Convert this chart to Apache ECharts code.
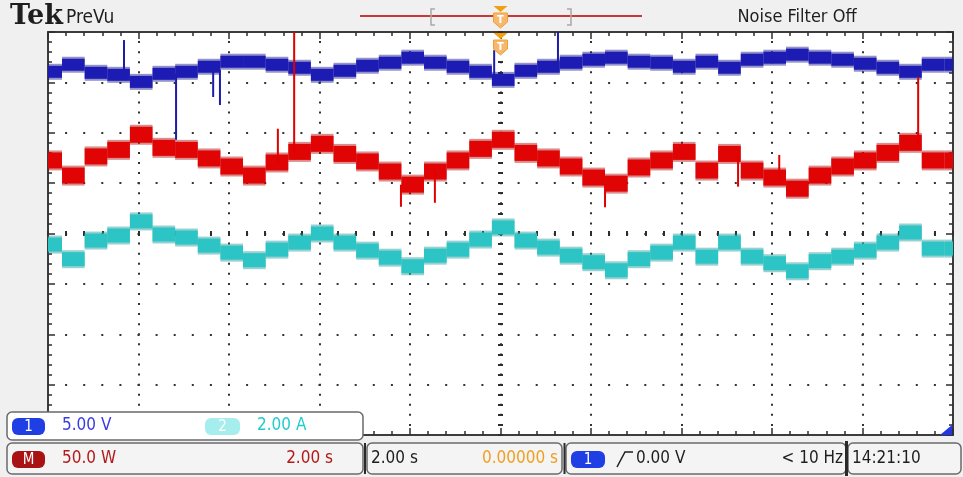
<!DOCTYPE html>
<html>
<head>
<meta charset="utf-8">
<script src="https://cdn.jsdelivr.net/npm/echarts@6/dist/echarts.min.js"></script>
<style>
  html, body { margin: 0; padding: 0; background: #f0f0f0; }
  #scope { width: 963px; height: 477px; }
</style>
</head>
<body>
<div id="scope"></div>
<script>
// Acquisition: 2.00 s/div, 10 divisions, trigger at the centre (t = 0).
// The recorder updates in 0.5 s steps; the first step is partial.
const STEP_T0 = -9.69;   // s, first full step starts here
const STEP_DT = 0.5;     // s per step

// Trace levels per step, in graticule divisions above centre.
const ch1Div  = [3.21,3.35,3.19,3.15,3.01,3.17,3.21,3.31,3.41,3.41,3.35,3.29,3.15,3.23,3.33,3.39,3.49,3.39,3.31,3.21,3.05,3.23,3.31,3.39,3.45,3.49,3.41,3.39,3.31,3.41,3.29,3.45,3.49,3.55,3.49,3.45,3.37,3.29,3.21,3.35,3.35];
const mathDiv = [1.45,1.15,1.53,1.66,1.96,1.70,1.66,1.49,1.33,1.15,1.41,1.62,1.78,1.58,1.43,1.23,0.97,1.23,1.45,1.68,1.86,1.60,1.49,1.33,1.11,0.99,1.31,1.45,1.62,1.25,1.58,1.25,1.11,0.89,1.15,1.33,1.45,1.60,1.80,1.45,1.45];
const ch2Div  = [-0.22,-0.51,-0.14,-0.04,0.24,-0.02,-0.08,-0.24,-0.38,-0.53,-0.32,-0.18,0.00,-0.18,-0.34,-0.48,-0.65,-0.44,-0.32,-0.12,0.12,-0.14,-0.28,-0.44,-0.57,-0.73,-0.51,-0.38,-0.18,-0.46,-0.18,-0.46,-0.59,-0.75,-0.55,-0.46,-0.34,-0.18,0.02,-0.30,-0.30];

// Glitches: [time s, from div, to div]
const ch1Spikes  = [[-8.32,3.15,3.84],[-7.17,3.17,1.86],[-6.35,3.25,2.71],[-6.20,3.25,2.55],[-0.14,3.10,3.64],[1.27,3.39,4.00]];
const mathSpikes = [[-4.92,1.41,2.08],[-4.56,1.62,4.00],[-2.20,0.97,0.53],[-1.45,1.23,0.61],[2.31,0.99,0.52],[5.25,1.58,0.93],[6.16,1.11,1.56],[9.23,1.80,3.11]];

// Readouts
const ch1Scale  = '5.00 V';
const ch2Scale  = '2.00 A';
const mathScale = '50.0 W';
const mathTime  = '2.00 s';
const timeBase  = '2.00 s';
const trigPos   = '0.00000 s';
const trigLevel = '0.00 V';
const trigFreq  = '< 10 Hz';
const clock     = '14:21:10';

const T_MIN = -10, T_MAX = 10, T_DIV = 2;
const Y_MIN = -4, Y_MAX = 4, Y_DIV = 1;

function steps(vals) {
  return vals.map((v, i) => {
    const a = i === 0 ? T_MIN : STEP_T0 + (i - 1) * STEP_DT;
    const b = Math.min(T_MAX, STEP_T0 + i * STEP_DT);
    return [a, b, v];
  });
}

function bandRenderer(color, fuzzColor, h, fuzz) {
  return function (params, api) {
    const p0 = api.coord([api.value(0), api.value(2)]);
    const p1 = api.coord([api.value(1), api.value(2)]);
    const w = p1[0] - p0[0];
    return {
      type: 'group',
      children: [
        { type: 'rect', shape: { x: p0[0], y: p0[1] - (h + fuzz) / 2, width: w, height: h + fuzz },
          style: { fill: fuzzColor, opacity: 0.45 } },
        { type: 'rect', shape: { x: p0[0], y: p0[1] - h / 2, width: w, height: h },
          style: { fill: color } }
      ]
    };
  };
}

function spikeRenderer(color) {
  return function (params, api) {
    const a = api.coord([api.value(0), api.value(1)]);
    const b = api.coord([api.value(0), api.value(2)]);
    return { type: 'line', shape: { x1: a[0], y1: a[1], x2: b[0], y2: b[1] },
             style: { stroke: color, lineWidth: 2 } };
  };
}

const INK = '#2e2e2e';
const condensed = "'DejaVu Sans Condensed', 'Liberation Sans Narrow', sans-serif";

function edgeAxis(extra) {
  return Object.assign({
    type: 'value',
    axisLine: { show: true, onZero: false, lineStyle: { color: '#3c3c3c', width: 2 } },
    axisTick: { show: true, inside: true, length: 7, lineStyle: { color: INK, width: 1.5 } },
    minorTick: { show: true, splitNumber: 5, length: 4, lineStyle: { color: INK, width: 1.5 } },
    axisLabel: { show: false },
    splitLine: { show: false }
  }, extra);
}

function centreAxis(extra, inside) {
  return Object.assign({
    type: 'value',
    axisLine: { show: false, onZero: true },
    axisTick: { show: true, inside: inside, length: 2.5, lineStyle: { color: INK, width: 2 } },
    minorTick: { show: true, splitNumber: 5, length: 2.5, lineStyle: { color: INK, width: 2 } },
    axisLabel: { show: false },
    splitLine: { show: false }
  }, extra);
}

const xRange = { min: T_MIN, max: T_MAX, interval: T_DIV };
const yRange = { min: Y_MIN, max: Y_MAX, interval: Y_DIV };

const badge = (x, y, w, h, fill, label) => [
  { type: 'rect', shape: { x, y, width: w, height: h, r: 6 }, style: { fill }, z: 110 },
  { type: 'text', x: x + w / 2, y: y + h / 2 + 1, z: 111,
    style: { text: label, fill: '#ffffff', font: '15px ' + condensed, textAlign: 'center', textVerticalAlign: 'middle' } }
];
const label = (x, y, text, fill, align) => ({
  type: 'text', x, y, z: 111,
  style: { text, fill, font: '17px ' + condensed, textAlign: align || 'left', textVerticalAlign: 'middle' }
});
const panel = (x, y, w, h, fill) => ({
  type: 'rect', shape: { x, y, width: w, height: h, r: 5 },
  style: { fill, stroke: '#6a6a6a', lineWidth: 1.5 }, z: 105
});
const vbar = (x, y1, y2, w) => ({
  type: 'line', shape: { x1: x, y1, x2: x, y2 }, style: { stroke: '#2a2a2a', lineWidth: w }, z: 112
});
const trigMarker = (cx, top) => [
  { type: 'polygon', shape: { points: [[cx - 7, top], [cx + 7, top], [cx, top + 6]] },
    style: { fill: '#f0a010' }, z: 120 },
  { type: 'polygon', shape: { points: [[cx - 7, top + 7], [cx + 7, top + 7], [cx + 7, top + 16], [cx, top + 22], [cx - 7, top + 16]] },
    style: { fill: '#f6b870', stroke: '#f0a030', lineWidth: 1 }, z: 120 },
  { type: 'text', x: cx, y: top + 14, z: 121,
    style: { text: 'T', fill: '#ffffff', font: 'bold 11px ' + condensed, textAlign: 'center', textVerticalAlign: 'middle' } }
];

const graphics = [
  // header
  { type: 'text', x: 10, y: 17, z: 100,
    style: { text: 'Tek', fill: '#1e1e1e', font: 'bold 27px "DejaVu Serif", "Liberation Serif", serif', textVerticalAlign: 'middle' } },
  { type: 'text', x: 66, y: 18, z: 100,
    style: { text: 'PreVu', fill: '#1e1e1e', font: '19px ' + condensed, textVerticalAlign: 'middle' } },
  { type: 'line', shape: { x1: 360, y1: 16, x2: 642, y2: 16 }, style: { stroke: '#c83838', lineWidth: 2 }, z: 100 },
  { type: 'polyline', shape: { points: [[435, 9], [431, 9], [431, 25], [435, 25]] }, style: { stroke: '#a8a8a8', lineWidth: 1.5, fill: null }, z: 101 },
  { type: 'polyline', shape: { points: [[567, 9], [571, 9], [571, 25], [567, 25]] }, style: { stroke: '#a8a8a8', lineWidth: 1.5, fill: null }, z: 101 },
  ...trigMarker(500.5, 6),
  ...trigMarker(500.5, 33),
  { type: 'text', x: 797, y: 17, z: 100,
    style: { text: 'Noise Filter Off', fill: '#1e1e1e', font: '18px ' + condensed, textAlign: 'center', textVerticalAlign: 'middle' } },
  // channel 1 marker at lower right of the graticule
  { type: 'polygon', shape: { points: [[940, 435], [952, 435], [952, 425]] }, style: { fill: '#2236e6' }, z: 100 },

  // readout panels
  panel(7, 412, 356, 28, '#ffffff'),
  ...badge(12, 418, 33, 17, '#1f3fe4', '1'),
  label(62, 426, ch1Scale, '#3a3ae6'),
  ...badge(205, 418, 35, 17, '#a6eeee', '2'),
  label(257, 426, ch2Scale, '#22cccc'),

  panel(7, 443, 356, 31, '#f4f4f4'),
  ...badge(12, 451, 33, 17, '#a81212', 'M'),
  label(62, 459, mathScale, '#b31a1a'),
  label(333, 459, mathTime, '#b31a1a', 'right'),

  panel(367, 443, 195, 31, '#f4f4f4'),
  label(371, 459, timeBase, '#1e1e1e'),
  label(558, 459, trigPos, '#f0a020', 'right'),

  panel(566, 443, 280, 31, '#f4f4f4'),
  ...badge(571, 451, 34, 17, '#1f3fe4', '1'),
  { type: 'polyline', shape: { points: [[617, 467], [625, 452], [633, 452]] }, style: { stroke: '#1e1e1e', lineWidth: 1.5, fill: null }, z: 111 },
  label(636, 459, trigLevel, '#1e1e1e'),
  label(843, 459, trigFreq, '#1e1e1e', 'right'),

  panel(848, 443, 113, 31, '#f4f4f4'),
  label(852, 459, clock, '#1e1e1e'),

  vbar(365, 443, 474, 2),
  vbar(564.5, 443, 474, 2),
  vbar(846.5, 441, 476, 3)
];

const chart = echarts.init(document.getElementById('scope'), null, { renderer: 'canvas' });
chart.setOption({
  backgroundColor: '#f0f0f0',
  animation: false,
  grid: { left: 48, right: 10, top: 32, bottom: 42, show: true, backgroundColor: '#ffffff', borderWidth: 0 },
  xAxis: [
    edgeAxis(Object.assign({ position: 'bottom',
      splitLine: { show: true, lineStyle: { color: '#333333', width: 2, type: [2, 8.075], dashOffset: 1 } } }, xRange)),
    edgeAxis(Object.assign({ position: 'top' }, xRange)),
    centreAxis(Object.assign({ position: 'bottom' }, xRange), true),
    centreAxis(Object.assign({ position: 'bottom' }, xRange), false)
  ],
  yAxis: [
    edgeAxis(Object.assign({ position: 'left',
      splitLine: { show: true, lineStyle: { color: '#333333', width: 2, type: [2, 16.1], dashOffset: 1 } } }, yRange)),
    edgeAxis(Object.assign({ position: 'right' }, yRange)),
    centreAxis(Object.assign({ position: 'left' }, yRange), true),
    centreAxis(Object.assign({ position: 'left' }, yRange), false)
  ],
  series: [
    { type: 'custom', name: 'CH2', clip: true, z: 3, encode: { x: [0, 1], y: 2 },
      data: steps(ch2Div), renderItem: bandRenderer('#2cc4c4', '#1a9a9a', 14, 4) },
    { type: 'custom', name: 'MATH', clip: true, z: 4, encode: { x: [0, 1], y: 2 },
      data: steps(mathDiv), renderItem: bandRenderer('#e00404', '#b00000', 16, 4) },
    { type: 'custom', name: 'CH1', clip: true, z: 5, encode: { x: [0, 1], y: 2 },
      data: steps(ch1Div), renderItem: bandRenderer('#1c1cb4', '#10108a', 12, 4) },
    { type: 'custom', name: 'CH1 glitch', clip: true, z: 6, encode: { x: 0, y: [1, 2] },
      data: ch1Spikes, renderItem: spikeRenderer('#1c1ca8') },
    { type: 'custom', name: 'MATH glitch', clip: true, z: 6, encode: { x: 0, y: [1, 2] },
      data: mathSpikes, renderItem: spikeRenderer('#e00000') }
  ],
  graphic: graphics
});
</script>
</body>
</html>
